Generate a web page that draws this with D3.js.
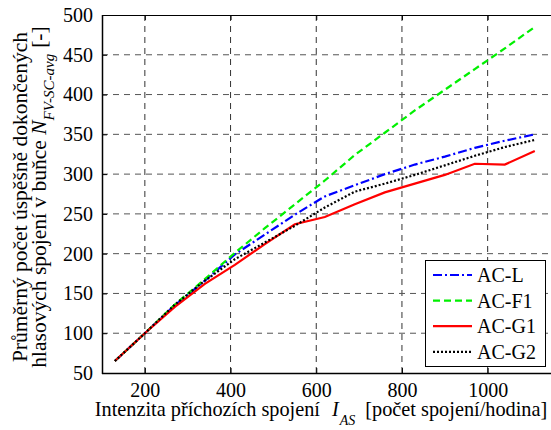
<!DOCTYPE html>
<html><head><meta charset="utf-8">
<script src="https://cdn.jsdelivr.net/npm/d3@7"></script>
<style>
html,body{margin:0;padding:0;background:#fff;overflow:hidden;}
svg{display:block;font-family:"Liberation Serif","Times New Roman",serif;}
</style></head>
<body>
<svg id="chart" width="551" height="430"></svg>
<script>
const xValues = [130, 200, 270, 340, 410, 480, 550, 620, 690, 760, 830, 900, 970, 1040, 1110];
const acL  = [65, 100, 135, 166, 199, 224, 249, 272, 286, 300, 312, 322, 333, 342, 350];
const acF1 = [65, 100, 136, 168, 201, 232, 262, 292, 324, 352, 380, 406, 432, 458, 485];
const acG1 = [65, 100, 133, 162, 186, 212, 237, 246, 262, 277, 288, 299, 313, 312, 329];
const acG2 = [65, 100, 136, 166, 193, 214, 235, 258, 278, 288, 299, 311, 323, 334, 343];
const seriesNames = ["AC-L", "AC-F1", "AC-G1", "AC-G2"];
const xTicks = [200, 400, 600, 800, 1000];
const yTicks = [50, 100, 150, 200, 250, 300, 350, 400, 450, 500];

const series = [
  {name: seriesNames[0], values: acL,  color: "#0000ff", dash: "9,3,2,3"},
  {name: seriesNames[1], values: acF1, color: "#00f000", dash: "7,4"},
  {name: seriesNames[2], values: acG1, color: "#ff0000", dash: null},
  {name: seriesNames[3], values: acG2, color: "#000000", dash: "2,2"}
];

const svg = d3.select("#chart");
const L = 102, T = 15, B = 373;
const x = d3.scaleLinear().domain([100, 1200]).range([L, L + 1100 * 0.4285]);
const y = d3.scaleLinear().domain([50, 500]).range([B, T]);
const R = x(1200);
const FONT = "Liberation Serif";

// grid
const g = svg.append("g");
g.selectAll(".vg").data(xTicks).enter().append("line")
  .attr("x1", d => x(d)).attr("x2", d => x(d)).attr("y1", B).attr("y2", T)
  .attr("stroke", "#333").attr("stroke-width", 1).attr("stroke-dasharray", "6,5");
g.selectAll(".hg").data(yTicks.filter(d => d > 50 && d < 500)).enter().append("line")
  .attr("x1", L).attr("x2", R).attr("y1", d => y(d)).attr("y2", d => y(d))
  .attr("stroke", "#555").attr("stroke-width", 1).attr("stroke-dasharray", "6,5");

// axes frame
svg.append("line").attr("x1", L).attr("x2", R).attr("y1", T + 0.5).attr("y2", T + 0.5).attr("stroke", "#000");
svg.append("line").attr("x1", L).attr("x2", R).attr("y1", B + 0.5).attr("y2", B + 0.5).attr("stroke", "#000").attr("stroke-width", 1.5);
svg.append("line").attr("x1", L + 0.5).attr("x2", L + 0.5).attr("y1", T).attr("y2", B + 1).attr("stroke", "#000").attr("stroke-width", 1.5);

// axes with inward ticks
const xAxis = d3.axisBottom(x).tickValues(xTicks).tickSize(-5).tickPadding(10).tickFormat(d3.format("d"));
const ax = svg.append("g").attr("transform", `translate(0,${B})`).call(xAxis);
ax.select(".domain").remove();
ax.selectAll("text").attr("font-size", 20).attr("font-family", FONT).attr("fill", "#000");
const xAxisTop = d3.axisTop(x).tickValues(xTicks).tickSize(-5).tickFormat("");
const axt = svg.append("g").attr("transform", `translate(0,${T})`).call(xAxisTop);
axt.select(".domain").remove();

const yAxis = d3.axisLeft(y).tickValues(yTicks).tickSize(-5).tickPadding(9).tickFormat(d3.format("d"));
const ay = svg.append("g").attr("transform", `translate(${L},0)`).call(yAxis);
ay.select(".domain").remove();
ay.selectAll("text").attr("font-size", 20).attr("font-family", FONT).attr("fill", "#000");

// lines
const line = d3.line().x((d, i) => x(xValues[i])).y(d => y(d));
series.forEach(s => {
  svg.append("path").datum(s.values)
    .attr("d", line).attr("fill", "none")
    .attr("stroke", s.color).attr("stroke-width", 2.2)
    .attr("stroke-dasharray", s.dash);
});

// legend
const lg = svg.append("g");
lg.append("rect").attr("x", 425.5).attr("y", 260.5).attr("width", 120).attr("height", 106)
  .attr("fill", "#fff").attr("stroke", "#000").attr("stroke-width", 1);
series.forEach((s, i) => {
  const yy = 275 + i * 25.6;
  lg.append("line").attr("x1", 433).attr("x2", 472).attr("y1", yy).attr("y2", yy)
    .attr("stroke", s.color).attr("stroke-width", 2.2).attr("stroke-dasharray", s.dash);
  lg.append("text").attr("x", 477).attr("y", yy + 7).attr("font-size", 20).attr("font-family", FONT).text(s.name);
});

// x label
const xl = svg.append("text").attr("x", 321).attr("y", 416).attr("text-anchor", "middle")
  .attr("font-size", 20.3).attr("font-family", FONT);
xl.append("tspan").text("Intenzita příchozích spojení");
xl.append("tspan").attr("dx", 12).attr("font-style", "italic").text("I");
xl.append("tspan").attr("font-style", "italic").attr("font-size", 14).attr("dy", 9).attr("dx", 1).text("AS");
xl.append("tspan").attr("dy", -9).attr("dx", 10).text("[počet spojení/hodina]");

// y label
const yl = svg.append("g").attr("transform", "translate(0,197) rotate(-90)");
yl.append("text").attr("x", 0).attr("y", 27).attr("text-anchor", "middle")
  .attr("font-size", 21.5).attr("font-family", FONT)
  .text("Průměrný počet úspěšně dokončených");
const yt = yl.append("text").attr("x", 0).attr("y", 46).attr("text-anchor", "middle")
  .attr("font-size", 21.5).attr("font-family", FONT);
yt.append("tspan").text("hlasových spojení v buňce ");
yt.append("tspan").attr("font-style", "italic").text("N");
yt.append("tspan").attr("font-style", "italic").attr("font-size", 15).attr("dy", 8).text("FV-SC-avg");
yt.append("tspan").attr("dy", -8).attr("dx", 6).text("[-]");
</script>
</body></html>
